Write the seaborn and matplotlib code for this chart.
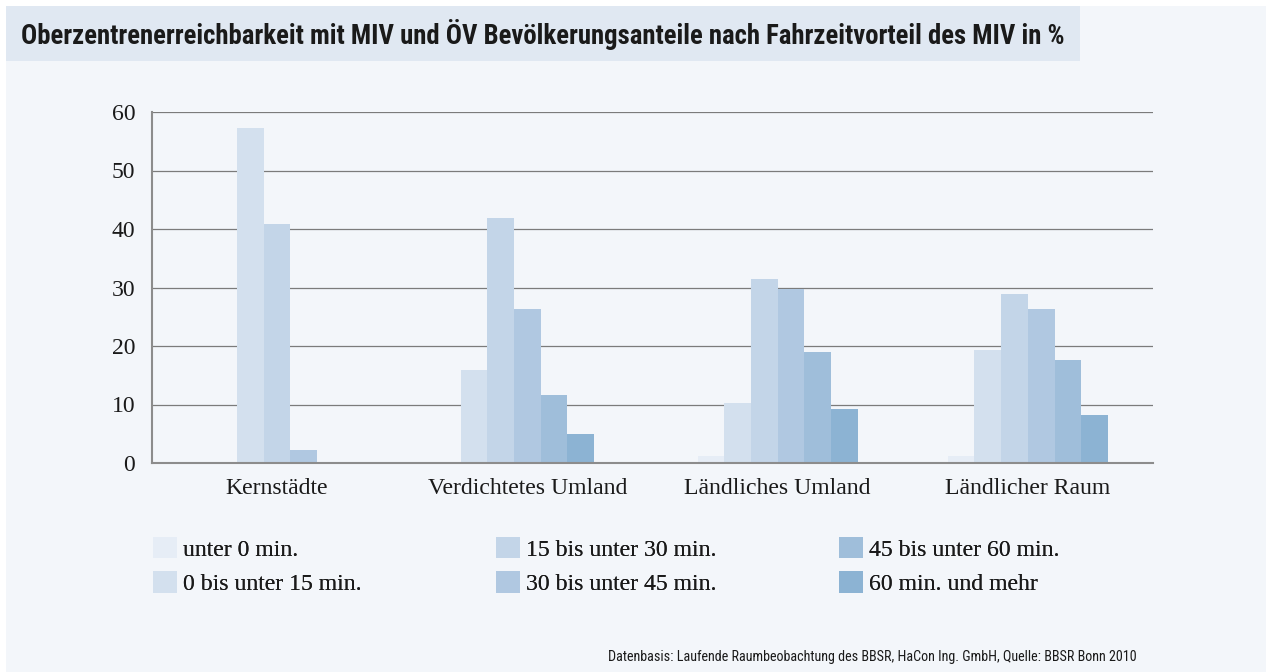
import matplotlib
matplotlib.use("Agg")
import matplotlib.pyplot as plt
from matplotlib.patches import Rectangle, Patch
from matplotlib import font_manager as fm
import pandas as pd
import seaborn as sns

# ---- data -------------------------------------------------------------
regions = ["Kernstädte", "Verdichtetes Umland", "Ländliches Umland", "Ländlicher Raum"]
series_labels = [
    "unter 0 min.",
    "0 bis unter 15 min.",
    "15 bis unter 30 min.",
    "30 bis unter 45 min.",
    "45 bis unter 60 min.",
    "60 min. und mehr",
]
unter_0 = [None, None, 1.2, 1.2]
bis_15 = [57.3, 15.9, 10.3, 19.3]
bis_30 = [40.9, 41.9, 31.5, 28.9]
bis_45 = [2.2, 26.3, 29.7, 26.3]
bis_60 = [None, 11.6, 19.0, 17.6]
ab_60 = [None, 5.0, 9.2, 8.2]
y_ticks = [0, 10, 20, 30, 40, 50, 60]

title = "Oberzentrenerreichbarkeit mit MIV und ÖV Bevölkerungsanteile nach Fahrzeitvorteil des MIV in %"
source = "Datenbasis: Laufende Raumbeobachtung des BBSR, HaCon Ing. GmbH, Quelle: BBSR Bonn 2010"

colors = ["#e6edf6", "#d3e0ee", "#c3d5e8", "#b0c8e1", "#9fbeda", "#8cb3d3"]

# ---- style --------------------------------------------------------------
W, H = 1266, 672
BAR_W = 0.1067           # bar width in group units
PANEL = "#f3f6fa"
TITLE_BOX = "#e0e8f2"
GRID = "#7b7b7b"
AXIS = "#8c8c8c"
TEXT = "#1a1a1a"
SERIF_SIZE = 17.1

sns.set_style("white")
plt.rcParams["font.family"] = ["Liberation Serif", "DejaVu Serif"]


def _weight(e):
    w = e.weight
    if isinstance(w, str):
        w = fm.weight_dict.get(w, 400)
    return w


def pick_condensed(bold):
    entries = fm.fontManager.ttflist
    prefs = ["Liberation Sans Narrow", "Roboto Condensed", "Noto Sans Condensed",
             "Open Sans Condensed", "DejaVu Sans Condensed"]
    for p in prefs:
        for e in entries:
            if e.name == p and (_weight(e) >= 600) == bold and e.style == "normal":
                return fm.FontProperties(fname=e.fname)
    for e in entries:
        if str(e.stretch) in ("condensed", "semi-condensed", "extra-condensed") \
                and (_weight(e) >= 600) == bold and e.style == "normal":
            return fm.FontProperties(fname=e.fname)
    return fm.FontProperties(family="DejaVu Sans", weight="bold" if bold else "normal")


# ---- long-form table, bars of each region centred on its slot ----------
values = dict(zip(series_labels, [unter_0, bis_15, bis_30, bis_45, bis_60, ab_60]))
rows = []
for i, reg in enumerate(regions):
    present = [s for s in series_labels if values[s][i] is not None]
    n = len(present)
    for k, s in enumerate(present):
        rows.append({"region": reg, "series": s, "value": values[s][i],
                     "pos": round(i + (k - (n - 1) / 2) * BAR_W, 6)})
df = pd.DataFrame(rows)

# ---- figure -------------------------------------------------------------
fig = plt.figure(figsize=(W / 100, H / 100), dpi=100, facecolor="white")
fig.patches.append(Rectangle((6 / W, 0), 1 - 6 / W, 1 - 6 / H, transform=fig.transFigure,
                             facecolor=PANEL, edgecolor="none", zorder=-10))
fig.patches.append(Rectangle((6 / W, 1 - 61 / H), (1080 - 6) / W, 55 / H,
                             transform=fig.transFigure, facecolor=TITLE_BOX,
                             edgecolor="none", zorder=-9))

ax = fig.add_axes([152 / W, (H - 463) / H, 1001 / W, 351 / H])
ax.patch.set_alpha(0)

sns.barplot(data=df, x="pos", y="value", hue="series", hue_order=series_labels,
            palette=colors, native_scale=True, dodge=False, width=1.0,
            errorbar=None, legend=False, saturation=1, linewidth=0, ax=ax)

ax.set_xlim(-0.5, 3.5)
ax.set_ylim(0, 60)
ax.set_xlabel("")
ax.set_ylabel("")
ax.set_xticks(range(len(regions)))
ax.set_xticklabels(regions)
ax.set_xticks([i - 0.5 for i in range(len(regions))], minor=True)
ax.set_yticks(y_ticks)
ax.tick_params(axis="x", which="major", length=0, pad=11, labelsize=SERIF_SIZE, labelcolor=TEXT)
ax.tick_params(axis="x", which="minor", length=11, width=1.3, color=AXIS, direction="out")
ax.tick_params(axis="y", length=0, pad=12, labelsize=SERIF_SIZE, labelcolor=TEXT)
ax.yaxis.grid(True, color=GRID, linewidth=0.9)
ax.xaxis.grid(False)
ax.set_axisbelow(True)
for side in ("top", "right"):
    ax.spines[side].set_visible(False)
for side in ("left", "bottom"):
    ax.spines[side].set_color(AXIS)
    ax.spines[side].set_linewidth(1.5)

# ---- legend: three columns of two entries -------------------------------
handles = [Patch(facecolor=c, edgecolor="none") for c in colors]
col_x = [153, 496, 839]
for j, x in enumerate(col_x):
    leg = fig.legend(handles[2 * j:2 * j + 2], series_labels[2 * j:2 * j + 2],
                     loc="upper left", bbox_to_anchor=(x / W, 1 - 537 / H),
                     frameon=False, borderpad=0, borderaxespad=0,
                     handlelength=1.0, handleheight=1.0, handletextpad=0.27,
                     labelspacing=0.45, fontsize=SERIF_SIZE, labelcolor=TEXT)
    fig.add_artist(leg)

# ---- title and source line ---------------------------------------------
fp_title = pick_condensed(True)
fp_title.set_size(20)
t_title = fig.text(21 / W, 1 - 44 / H, title, fontproperties=fp_title,
                   ha="left", va="baseline", color=TEXT)
fp_src = pick_condensed(False)
fp_src.set_size(10)
t_src = fig.text(1137 / W, 1 - 661 / H, source, fontproperties=fp_src,
                 ha="right", va="baseline", color=TEXT)

renderer = fig.canvas.get_renderer()
for txt, target in ((t_title, 1042), (t_src, 528)):
    w = txt.get_window_extent(renderer).width
    txt.set_fontsize(txt.get_fontsize() * target / w)

fig.savefig("out.png", dpi=100, facecolor="white")
